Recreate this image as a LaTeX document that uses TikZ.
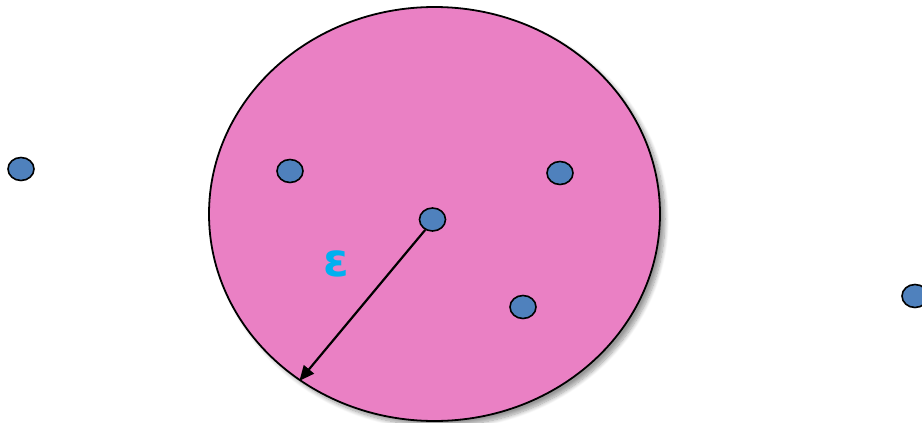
\documentclass[tikz,border=0pt]{standalone}
\usepackage{fontspec}
\usepackage{tikz}
\usetikzlibrary{shapes.geometric, arrows.meta, positioning, shadows, shadows.blur}
\newfontfamily\epsfont{DejaVu Sans}
\definecolor{regionpink}{RGB}{234,128,196}
\definecolor{dotblue}{RGB}{79,129,189}
\definecolor{epsblue}{RGB}{0,176,240}
\tikzset{
  region/.style={ellipse, draw=black, fill=regionpink, line width=1.8pt,
    minimum width=451pt, minimum height=414pt, inner sep=0pt,
    blur shadow={shadow xshift=5pt, shadow yshift=-5pt, shadow blur radius=4pt, shadow blur steps=10, shadow opacity=40}},
  dot/.style={ellipse, draw=black, fill=dotblue, line width=1.6pt,
    minimum width=26pt, minimum height=23pt, inner sep=0pt},
  radius/.style={-{Triangle[length=15pt, width=13pt]}, line width=2.2pt, color=black}
}
\begin{document}
\begin{tikzpicture}[x=1pt, y=-1pt]
  \useasboundingbox (0,0) rectangle (922,423);
  % neighbourhood of the core point
  \node[region] (nbhd) at (434.5,214) {};
  % points
  \node[dot] (p1) at (21,169) {};
  \node[dot] (p2) at (290,171) {};
  \node[dot] (p3) at (560,173) {};
  \node[dot] (core) at (432.5,219.5) {};
  \node[dot] (p4) at (523,307) {};
  \node[dot] (p5) at (915,296) {};
  % radius
  \draw[radius] (core.235) -- (nbhd.231.5);
  \node[font=\epsfont\bfseries\fontsize{46}{46}\selectfont, text=epsblue] (eps) at (336,264) {ε};
\end{tikzpicture}
\end{document}
